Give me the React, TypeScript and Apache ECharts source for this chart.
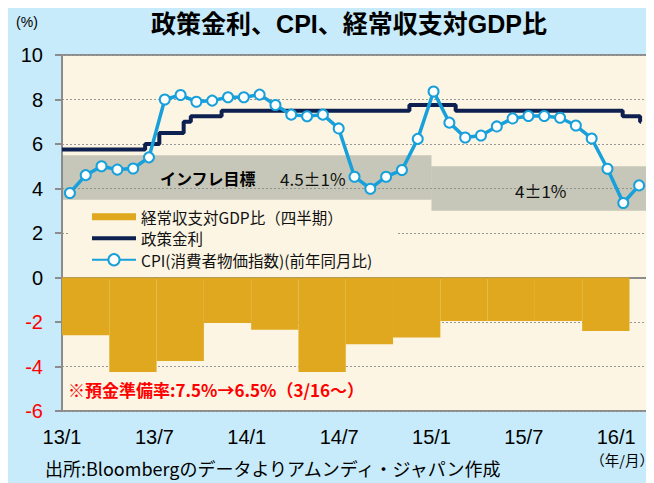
import React, { useEffect, useRef } from "react";
import * as echarts from "echarts";

// ---------- data ----------
const TITLE = "政策金利、CPI、経常収支対GDP比";
const Y_UNIT = "(%)";
const X_UNIT = "（年/月）";
const SOURCE = "出所:Bloombergのデータよりアムンディ・ジャパン作成";
const NOTE = "※預金準備率:7.5%→6.5%（3/16～）";

// label axis (months since 2013/1)
const X_TICK_MONTHS = [0, 6, 12, 18, 24, 30, 36];
const X_TICK_LABELS = ["13/1", "13/7", "14/1", "14/7", "15/1", "15/7", "16/1"];
const X_AXIS_MONTHS_MAX = 38;

// CPI (monthly, 2013/1 - 2016/1)
const CPI_NAME = "CPI(消費者物価指数)(前年同月比)";
const CPI_VALUES = [
  3.8, 4.6, 5.0, 4.85, 4.9, 5.4, 8.0, 8.2, 7.9, 7.95, 8.1, 8.1,
  8.22, 7.75, 7.32, 7.25, 7.32, 6.7, 4.53, 3.99, 4.53, 4.83, 6.23, 8.36,
  6.96, 6.29, 6.38, 6.79, 7.15, 7.26, 7.26, 7.18, 6.83, 6.25, 4.89, 3.35,
  4.14,
];
const CPI_MONTHS: string[] = [];
for (let i = 0; i < CPI_VALUES.length; i++) {
  const y = 2013 + Math.floor(i / 12);
  const m = (i % 12) + 1;
  CPI_MONTHS.push(`${y}/${m}`);
}

// Policy rate (changes)
const POLICY_NAME = "政策金利";
const POLICY_DATES = [
  "2013-01-01", "2013-06-13", "2013-07-11", "2013-08-29", "2013-09-12",
  "2013-11-12", "2014-11-18", "2015-02-17", "2016-01-14", "2016-02-17",
  "2016-02-19",
];
const POLICY_RATES = [5.75, 6.0, 6.5, 7.0, 7.25, 7.5, 7.75, 7.5, 7.25, 7.0, 7.0];

// Current account / GDP (quarterly)
const CA_NAME = "経常収支対GDP比（四半期）";
const CA_QUARTERS = [
  "13Q1", "13Q2", "13Q3", "13Q4", "14Q1", "14Q2", "14Q3", "14Q4",
  "15Q1", "15Q2", "15Q3", "15Q4",
];
const CA_VALUES = [-2.6, -4.25, -3.75, -2.05, -2.35, -4.25, -3.0, -2.7, -1.95, -1.95, -1.95, -2.4];
const CA_AXIS_MAX = 12.37;

// Inflation target bands (months since 2013/1)
const BAND_FROM = [0, 24];
const BAND_TO = [24, 38];
const BAND_LOW = [3.5, 3];
const BAND_HIGH = [5.5, 5];
const BAND_TITLE = "インフレ目標";
const BAND_LABELS = ["4.5±1%", "4±1%"];

// ---------- styles ----------
const C_BG = "#C7EBFA";
const C_PLOT = "#FCF5E3";
const C_AXIS = "#8C8C8C";
const C_BAR = "#DFA81E";
const C_NAVY = "#0D2050";
const C_CPI = "#18A0DB";
const C_BAND = "rgba(128,140,128,0.43)";
const LATIN = "'Liberation Sans', Arial, 'Noto Sans CJK JP', sans-serif";
const CJK = "'Noto Sans CJK JP', 'Liberation Sans', sans-serif";

function toMonthIndex(s: string): number {
  const [y, m, d] = s.split("-").map(Number);
  const dim = new Date(y, m, 0).getDate();
  return (y - 2013) * 12 + (m - 1) + (d - 1) / dim;
}

export default function App() {
  const ref = useRef<HTMLDivElement>(null);

  useEffect(() => {
    if (!ref.current) return;
    const chart = echarts.init(ref.current, undefined, { renderer: "svg" });

    const policyData = POLICY_DATES.map((d, i) => [toMonthIndex(d), POLICY_RATES[i]]);
    const caData = CA_VALUES.map((v, i) => [i, v, CA_QUARTERS[i]]);

    const option: any = {
      animation: false,
      backgroundColor: C_BG,
      grid: {
        left: 54,
        right: 7,
        top: 47,
        bottom: 72,
        show: true,
        backgroundColor: C_PLOT,
        borderColor: C_AXIS,
        borderWidth: 2,
        containLabel: false,
      },
      legend: {
        data: [
          { name: CA_NAME, icon: "path://M0,0H44V7H0Z", itemStyle: { borderWidth: 0 } },
          { name: POLICY_NAME, icon: "path://M0,0H44V4H0Z", itemStyle: { borderWidth: 0 } },
          { name: CPI_NAME },
        ],
        orient: "vertical",
        left: 60,
        top: 198,
        padding: [3, 25, 4, 23],
        itemWidth: 44,
        itemHeight: 14,
        itemGap: 6,
        backgroundColor: C_PLOT,
        selectedMode: false,
        textStyle: { fontSize: 15.5, fontFamily: CJK, color: "#111", lineHeight: 14 },
      },
      xAxis: [
        {
          type: "value",
          min: 0,
          max: X_AXIS_MONTHS_MAX,
          interval: 6,
          position: "bottom",
          axisLine: { show: false, onZero: false },
          axisTick: { show: false },
          splitLine: { show: false },
          axisLabel: {
            margin: 16,
            fontSize: 20,
            fontFamily: LATIN,
            color: "#000",
            formatter: (v: number) => {
              const k = X_TICK_MONTHS.indexOf(v);
              return k >= 0 ? X_TICK_LABELS[k] : "";
            },
          },
        },
        {
          type: "value",
          min: 0,
          max: X_AXIS_MONTHS_MAX,
          interval: 6,
          position: "bottom",
          axisLine: { show: true, onZero: true, lineStyle: { color: C_AXIS, width: 2 } },
          axisTick: { show: true, length: 6, lineStyle: { color: C_AXIS, width: 2 } },
          axisLabel: { show: false },
          splitLine: { show: false },
        },
        {
          type: "category",
          data: CPI_MONTHS,
          boundaryGap: true,
          show: false,
        },
        {
          type: "value",
          min: 0,
          max: CA_AXIS_MAX,
          show: false,
          splitLine: { show: false },
        },
      ],
      yAxis: {
        type: "value",
        min: -6,
        max: 10,
        interval: 2,
        axisLine: { show: true, lineStyle: { color: C_AXIS, width: 2 } },
        axisTick: { show: true, length: 7, lineStyle: { color: C_AXIS, width: 2 } },
        axisLabel: {
          margin: 19,
          fontSize: 20,
          fontFamily: LATIN,
          color: (v: any) => (Number(v) < 0 ? "#FF0000" : "#000"),
        },
        splitLine: { show: true, lineStyle: { color: "#999", width: 1, type: [2, 2] } },
      },
      series: [
        {
          name: CA_NAME,
          type: "custom",
          xAxisIndex: 3,
          yAxisIndex: 0,
          z: 2,
          itemStyle: { color: C_BAR },
          encode: { x: 0, y: 1 },
          data: caData,
          renderItem: (params: any, api: any) => {
            const i = api.value(0);
            const v = api.value(1);
            const p0 = api.coord([i, 0]);
            const p1 = api.coord([i + 1, v]);
            return {
              type: "rect",
              shape: { x: p0[0], y: p0[1], width: p1[0] - p0[0], height: p1[1] - p0[1] },
              style: api.style(),
            };
          },
        },
        {
          name: POLICY_NAME,
          type: "line",
          xAxisIndex: 0,
          yAxisIndex: 0,
          step: "end",
          symbol: "none",
          z: 3,
          itemStyle: { color: C_NAVY },
          lineStyle: { color: C_NAVY, width: 4 },
          data: policyData,
        },
        {
          name: CPI_NAME,
          type: "line",
          xAxisIndex: 2,
          yAxisIndex: 0,
          symbol: "emptyCircle",
          symbolSize: 10,
          z: 4,
          itemStyle: { color: C_CPI, borderWidth: 2 },
          lineStyle: { color: C_CPI, width: 3.5 },
          data: CPI_VALUES,
        },
        {
          name: "band",
          type: "line",
          xAxisIndex: 0,
          yAxisIndex: 0,
          data: [],
          z: 6,
          markArea: {
            silent: true,
            itemStyle: { color: C_BAND },
            label: { show: false },
            data: BAND_FROM.map((f, i) => [
              { xAxis: f, yAxis: BAND_LOW[i] },
              { xAxis: BAND_TO[i], yAxis: BAND_HIGH[i] },
            ]),
          },
        },
      ],
      graphic: [
        {
          type: "text",
          x: 341,
          y: 16,
          z: 100,
          style: {
            text: TITLE,
            font: `bold 25px ${LATIN}`,
            fill: "#000",
            textAlign: "center",
            textVerticalAlign: "middle",
          },
        },
        {
          type: "text",
          x: 19,
          y: 14,
          z: 100,
          style: {
            text: Y_UNIT,
            font: `14px ${LATIN}`,
            fill: "#000",
            textAlign: "center",
            textVerticalAlign: "middle",
          },
        },
        {
          type: "text",
          x: 152,
          y: 170,
          z: 100,
          style: {
            text: BAND_TITLE,
            font: `bold 16px ${CJK}`,
            fill: "#000",
            textAlign: "left",
            textVerticalAlign: "middle",
          },
        },
        {
          type: "text",
          x: 272,
          y: 170,
          z: 100,
          style: {
            text: BAND_LABELS[0],
            font: `17px ${CJK}`,
            fill: "#111",
            textAlign: "left",
            textVerticalAlign: "middle",
          },
        },
        {
          type: "text",
          x: 507,
          y: 182,
          z: 100,
          style: {
            text: BAND_LABELS[1],
            font: `17px ${CJK}`,
            fill: "#111",
            textAlign: "left",
            textVerticalAlign: "middle",
          },
        },
        {
          type: "text",
          x: 60,
          y: 381,
          z: 100,
          style: {
            text: NOTE,
            font: `bold 17px ${CJK}`,
            fill: "#FF0000",
            textAlign: "left",
            textVerticalAlign: "middle",
          },
        },
        {
          type: "text",
          x: 37,
          y: 460,
          z: 100,
          style: {
            text: SOURCE,
            font: `18px ${CJK}`,
            fill: "#000",
            textAlign: "left",
            textVerticalAlign: "middle",
          },
        },
        {
          type: "text",
          x: 646,
          y: 451,
          z: 100,
          style: {
            text: X_UNIT,
            font: `14.5px ${CJK}`,
            fill: "#000",
            textAlign: "right",
            textVerticalAlign: "middle",
          },
        },
      ],
    };

    chart.setOption(option);
    return () => chart.dispose();
  }, []);

  return <div ref={ref} style={{ width: 646, height: 475 }} />;
}
